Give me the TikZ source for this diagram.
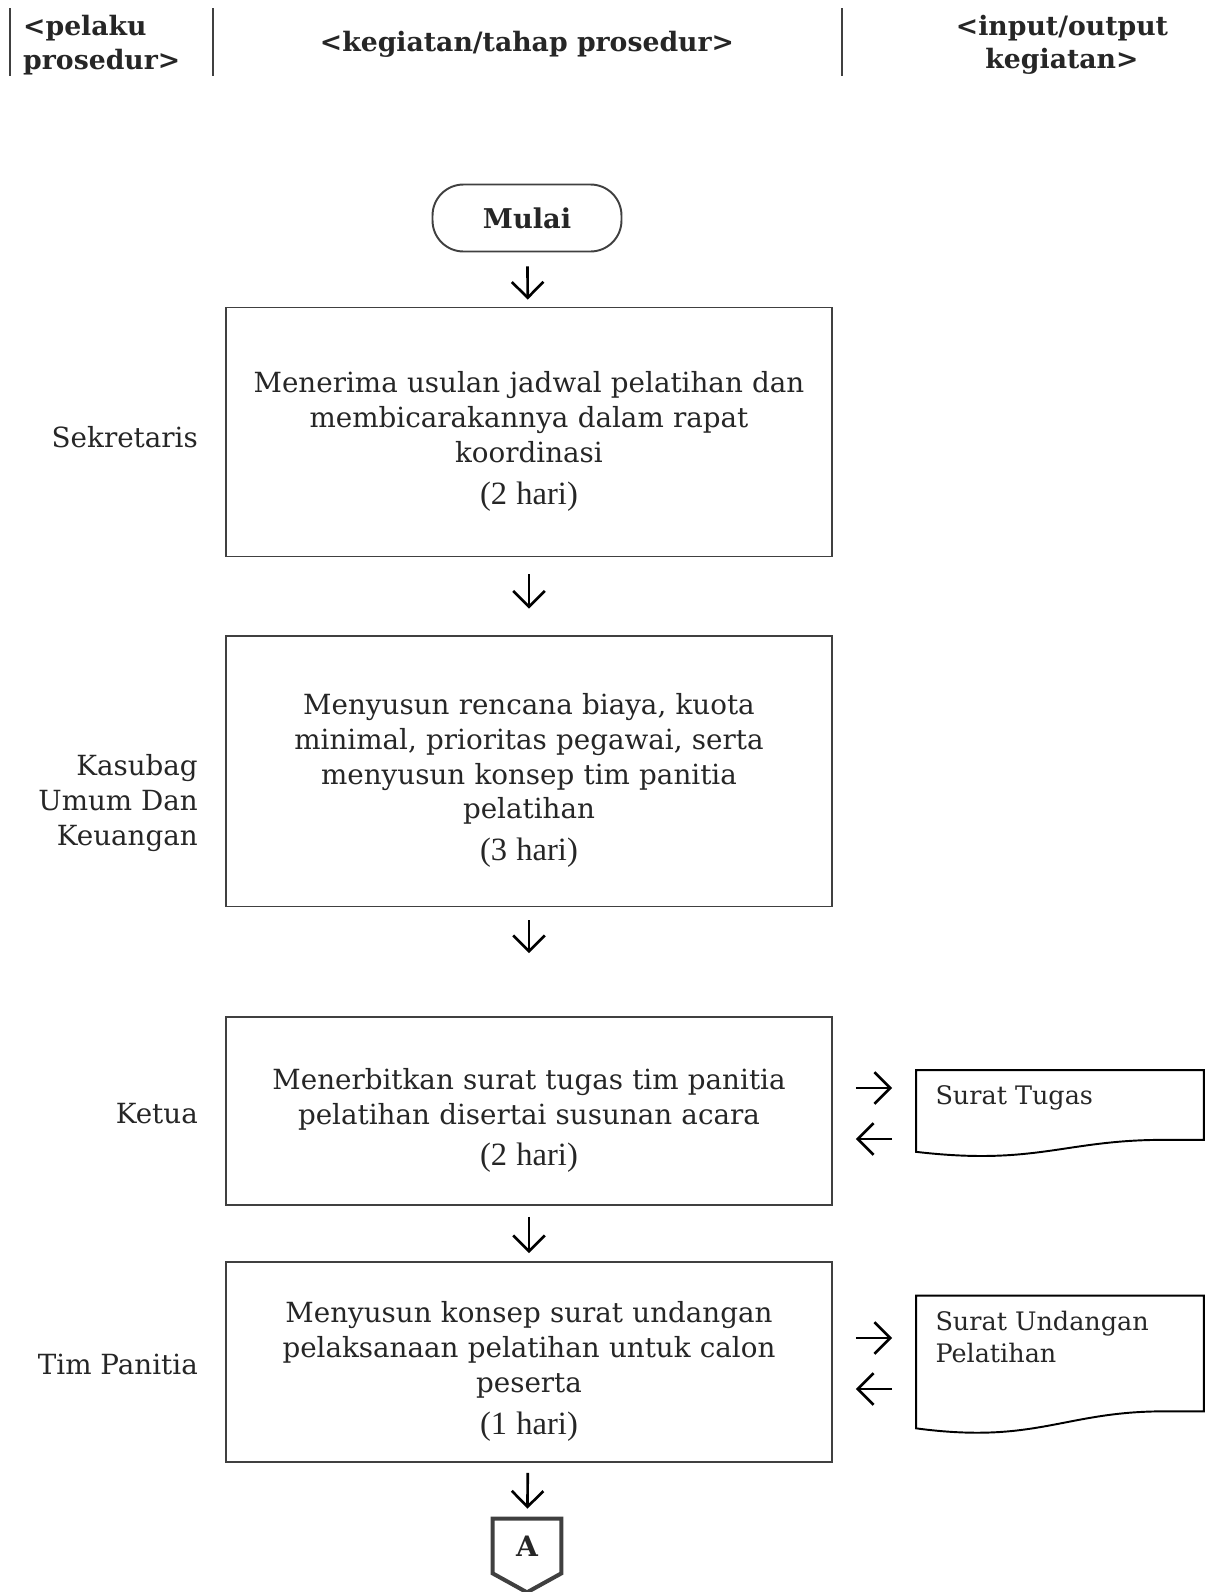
\documentclass[tikz,border=0pt]{standalone}
\usepackage{fontspec}
\setmainfont{DejaVu Serif}
\newfontfamily\durfont{Liberation Serif}
\usetikzlibrary{calc,arrows.meta,positioning}
\definecolor{BoxGray}{HTML}{404040}
\definecolor{InkGray}{HTML}{262626}
\tikzset{
    block/.style = {draw=BoxGray, rectangle, line width=1.1pt,
        minimum width=12.12cm, text width=12cm, align=center, inner sep=0pt,
        execute at begin node=\rule{0pt}{0.8cm}},
    term/.style = {draw=BoxGray, rectangle, rounded corners=0.62cm, line width=1.1pt,
        minimum width=3.78cm, minimum height=1.34cm, font=\fontsize{15.5}{19.6}\selectfont\bfseries},
    arrow/.style = {draw, line width=1.5pt, -{Straight Barb[length=9pt,width=18pt,line width=1.5pt]}},
    actor/.style = {anchor=east, align=right},
    docbox/.style = {rectangle, minimum width=5.74cm, inner sep=0pt, font=\fontsize{14.5}{18}\selectfont},
    docline/.style = {draw=black, line width=1.1pt},
    head/.style = {font=\fontsize{15.2}{19}\selectfont\bfseries, align=center},
    sep/.style = {draw=BoxGray, line width=1.2pt}
}
\newcommand{\dur}[1]{\\[4pt]{\durfont\fontsize{18.5}{20}\selectfont (#1)}}
\newcommand{\docpar}[2]{\parbox[c][#1][t]{4.98cm}{#2}}

\begin{document}
\begin{tikzpicture}[x=0.02cm,y=-0.02cm,
    every node/.style={text=InkGray, font=\fontsize{15.8}{19.8}\selectfont}]
\useasboundingbox (0,0) rectangle (1219,1592);
% header
\draw[sep] (10,8) -- (10,76);
\draw[sep] (213,8) -- (213,76);
\draw[sep] (842,8) -- (842,76);
\node[head, anchor=west, align=left] (hpel) at (17,45) {<pelaku\\prosedur>};
\node[head] (hkeg) at (527,44) {<kegiatan/tahap prosedur>};
\node[head] (hio) at (1062,45) {<input/output\\kegiatan>};

% flow
\node[term] (mulai) at (527,218) {Mulai};
\node[block, minimum height=4.98cm] (b1) at (529,432)
    {Menerima usulan jadwal pelatihan dan\\membicarakannya dalam rapat\\koordinasi\dur{2 hari}};
\node[block, minimum height=5.42cm] (b2) at (529,771)
    {Menyusun rencana biaya, kuota\\minimal, prioritas pegawai, serta\\menyusun konsep tim panitia\\pelatihan\dur{3 hari}};
\node[block, minimum height=3.76cm] (b3) at (529,1111)
    {Menerbitkan surat tugas tim panitia\\pelatihan disertai susunan acara\dur{2 hari}};
\node[block, minimum height=4.0cm] (b4) at (529,1362)
    {Menyusun konsep surat undangan\\pelaksanaan pelatihan untuk calon\\peserta\dur{1 hari}};
\node[rectangle, minimum width=1.36cm, minimum height=1.08cm, inner sep=0pt,
    font=\fontsize{16}{18}\selectfont\bfseries] (conA) at (527,1546) {A};
\draw[draw=BoxGray, line width=2.3pt] (conA.north west) -- (conA.north east) -- (conA.south east)
    -- ($(conA.south)+(0,19)$) -- (conA.south west) -- cycle;

\draw[arrow, shorten <=0.28cm, shorten >=0.14cm] (mulai) -- (b1);
\draw[arrow, shorten <=0.34cm, shorten >=0.52cm] (b1) -- (b2);
\draw[arrow, shorten <=0.26cm, shorten >=1.26cm] (b2) -- (b3);
\draw[arrow, shorten <=0.22cm, shorten >=0.16cm] (b3) -- (b4);
\draw[arrow, shorten <=0.2cm, shorten >=0.2cm] (b4) -- (conA);

% actors
\node[actor] (sek) at (204,437) {Sekretaris};
\node[actor] (kas) at (204,803) {Kasubag\\Umum Dan\\Keuangan};
\node[actor] (ket) at (204,1114) {Ketua};
\node[actor] (tim) at (204,1364) {Tim Panitia};

% documents
\node[docbox, minimum height=1.62cm] (st) at (1060,1111) {\docpar{1.02cm}{Surat Tugas}};
\draw[docline] (st.north west) -- (st.north east) -- ($(st.south east)+(0,-12)$)
    -- ($(st.south east)+(-40,-12)$) .. controls ($(st.south east)+(-140,-12)$) and ($(st.south west)+(120,14)$) .. (st.south west) -- cycle;
\node[docbox, minimum height=2.64cm] (su) at (1060,1362) {\docpar{2.04cm}{Surat Undangan\\Pelatihan}};
\draw[docline] (su.north west) -- (su.north east) -- ($(su.south east)+(0,-17)$)
    -- ($(su.south east)+(-40,-17)$) .. controls ($(su.south east)+(-140,-17)$) and ($(su.south west)+(120,16)$) .. (su.south west) -- cycle;

\draw[arrow, shorten <=0.46cm, shorten >=0.48cm] ([yshift=0.46cm]b3.east) -- ([yshift=0.46cm]st.west);
\draw[arrow, shorten <=0.48cm, shorten >=0.46cm] ([yshift=-0.56cm]st.west) -- ([yshift=-0.56cm]b3.east);
\draw[arrow, shorten <=0.46cm, shorten >=0.48cm] ([yshift=0.48cm]b4.east) -- ([yshift=0.48cm]su.west);
\draw[arrow, shorten <=0.48cm, shorten >=0.46cm] ([yshift=-0.54cm]su.west) -- ([yshift=-0.54cm]b4.east);
\end{tikzpicture}
\end{document}
